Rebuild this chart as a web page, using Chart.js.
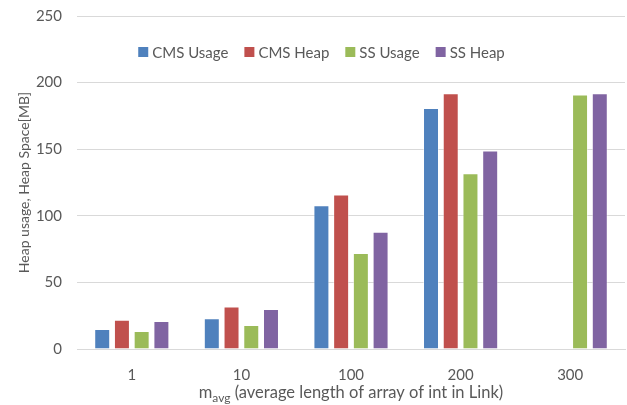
<!DOCTYPE html>
<html>
<head>
<meta charset="utf-8">
<script src="https://cdn.jsdelivr.net/npm/chart.js@4/dist/chart.umd.min.js"></script>
<style>
  html, body { margin: 0; padding: 0; background: #fff; }
  #wrap { width: 627px; height: 405px; position: relative; }
</style>
</head>
<body>
<div id="wrap"><canvas id="chart1" width="627" height="405"></canvas></div>
<script>
categories = ["1", "10", "100", "200", "300"]
cmsUsage = [15, 23, 108, 181, null]
cmsHeap = [22, 32, 116, 192, null]
ssUsage = [13.5, 18, 72, 132, 191]
ssHeap = [21, 30, 88, 149, 192]
yTicks = [0, 50, 100, 150, 200, 250]

colors = ['#4F81BD', '#C0504D', '#9BBB59', '#8064A2']
font = "Lato, 'Open Sans', sans-serif"

// legend sits inside the plot, in one row, so draw it from the datasets
innerLegend = {
  id: 'innerLegend',
  afterDatasetsDraw(chart) {
    var ctx = chart.ctx
    var sets = chart.data.datasets
    ctx.save()
    ctx.font = '15px ' + font
    ctx.textBaseline = 'middle'
    var box = 10, gap = 4, sep = 16
    var total = 0
    sets.forEach(d => { total += box + gap + ctx.measureText(d.label).width + sep })
    total -= sep
    var x = chart.width / 2 - total / 2 + 8
    var y = 52
    sets.forEach(d => {
      ctx.fillStyle = d.backgroundColor
      ctx.fillRect(x, y - box / 2, box, box)
      x += box + gap
      ctx.fillStyle = '#595959'
      ctx.fillText(d.label, x, y + 1)
      x += ctx.measureText(d.label).width + sep
    })
    ctx.restore()
  }
}

// x axis title has a subscript, so draw it by hand
xTitle = {
  id: 'xTitle',
  afterDraw(chart) {
    var ctx = chart.ctx
    var a = chart.chartArea
    var cx = (a.left + a.right) / 2
    ctx.save()
    ctx.fillStyle = '#595959'
    ctx.textBaseline = 'alphabetic'
    var big = '16.5px ' + font, small = '12px ' + font
    var p1 = 'm', p2 = 'avg', p3 = ' (average length of array of int in Link)'
    ctx.font = big
    var w1 = ctx.measureText(p1).width, w3 = ctx.measureText(p3).width
    ctx.font = small
    var w2 = ctx.measureText(p2).width
    var x = cx - (w1 + w2 + w3) / 2
    var y = 398
    ctx.font = big
    ctx.fillText(p1, x, y)
    ctx.font = small
    ctx.fillText(p2, x + w1, y + 4)
    ctx.font = big
    ctx.fillText(p3, x + w1 + w2, y)
    ctx.restore()
  }
}

var ctx = document.getElementById('chart1').getContext('2d')
var myChart = new Chart(ctx, {
  type: 'bar',
  data: {
    labels: categories,
    datasets: [
      {label: 'CMS Usage', data: cmsUsage},
      {label: 'CMS Heap', data: cmsHeap},
      {label: 'SS Usage', data: ssUsage},
      {label: 'SS Heap', data: ssHeap}
    ].map((d, i) => Object.assign(d, {
      backgroundColor: colors[i],
      borderColor: 'rgba(255,255,255,0.45)',
      borderWidth: 1,
      categoryPercentage: 0.72,
      barPercentage: 0.81
    }))
  },
  options: {
    responsive: false,
    animation: false,
    layout: {padding: {left: 16, right: 2, top: 16, bottom: 6}},
    plugins: {
      tooltip: {enabled: false},
      legend: {display: false}
    },
    scales: {
      x: {
        grid: {display: false},
        border: {color: '#D9D9D9'},
        ticks: {color: '#595959', font: {family: font, size: 15}, padding: 9},
        afterFit: (s) => { s.height = 50 }
      },
      y: {
        min: 0, max: 250,
        afterBuildTicks: (s) => { s.ticks = yTicks.map(v => ({value: v})) },
        afterFit: (s) => { s.width = 61; s.paddingTop = 0; s.paddingBottom = 0 },
        grid: {color: '#D9D9D9', drawTicks: false},
        border: {display: false},
        ticks: {color: '#595959', font: {family: font, size: 15}, padding: 15},
        title: {
          display: true,
          text: 'Heap usage, Heap Space[MB]',
          color: '#595959',
          font: {family: font, size: 14},
          padding: {top: 0, bottom: 2}
        }
      }
    }
  },
  plugins: [innerLegend, xTitle]
})
</script>
</body>
</html>
